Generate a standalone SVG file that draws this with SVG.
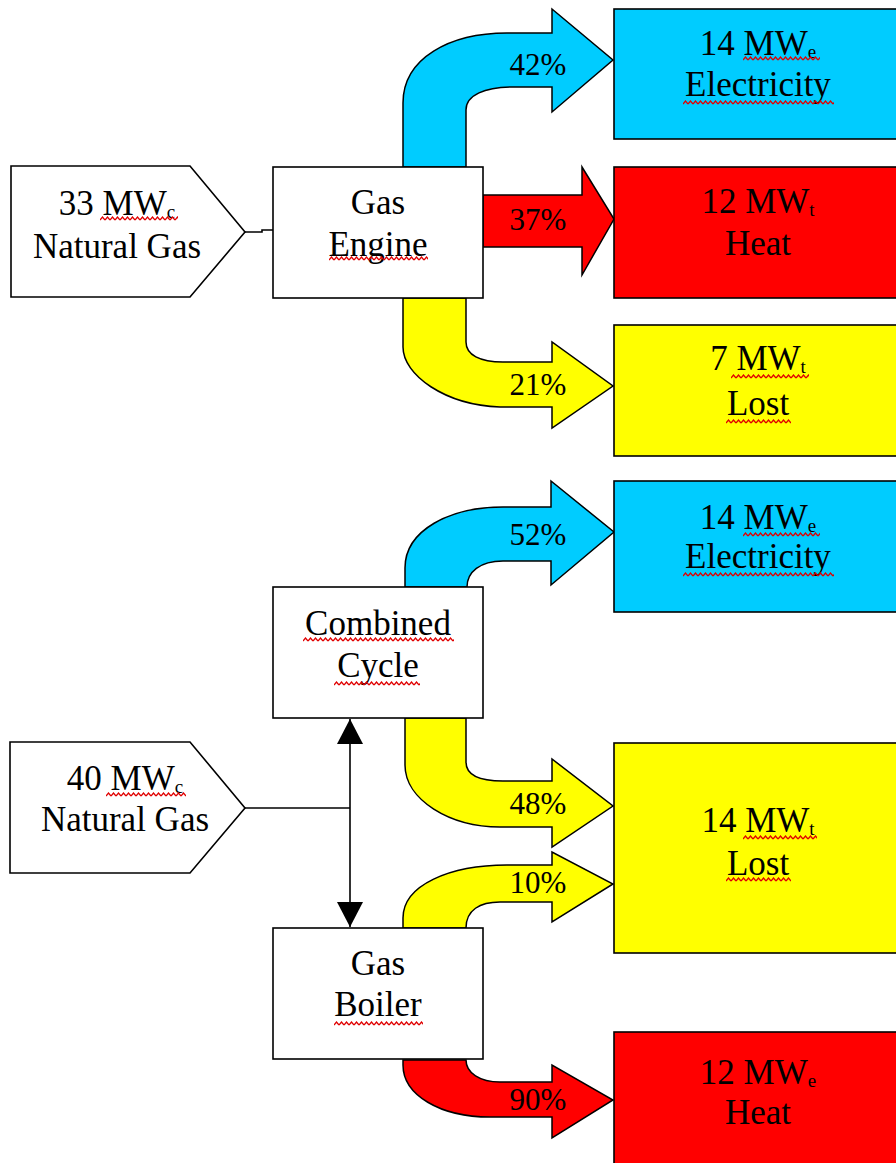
<svg xmlns="http://www.w3.org/2000/svg" width="896" height="1163" viewBox="0 0 896 1163">
<style>
.box{stroke:#000;stroke-width:1.6}
.w{fill:#fff}
.b{fill:#00CCFF}
.r{fill:#FF0000}
.y{fill:#FFFF00}
.flow{stroke:#000;stroke-width:1.5;stroke-linejoin:miter}
.t{font-family:"Liberation Serif","Times New Roman",serif;font-size:35px;fill:#000;text-anchor:middle}
.p{font-family:"Liberation Serif","Times New Roman",serif;font-size:31px;fill:#000;text-anchor:middle}
.sub{font-size:19px}
.sq{fill:url(#squig)}
.ln{stroke:#000;stroke-width:1.6;fill:none}
</style>
<defs>
<pattern id="squig" patternUnits="userSpaceOnUse" width="5" height="5">
<polyline points="0,4 2.5,1 5,4" fill="none" stroke="#E00000" stroke-width="1.3"/>
</pattern>
<marker id="ah" viewBox="0 0 25 26" refX="25" refY="13" markerWidth="25" markerHeight="26" markerUnits="userSpaceOnUse" orient="auto-start-reverse">
<path d="M0,0 L25,13 L0,26 Z" fill="#000"/>
</marker>
</defs>
<rect width="896" height="1163" fill="#fff"/>

<g id="connectors">
<!-- top section -->
<path class="flow b" d="M403,167 L403,103 C403,58 450,33 507,33 L552,33 L552,9 L613,60 L552,112 L552,87 L513,87 C485,87 466,95 466,110 L466,167 Z"/>
<path class="flow r" d="M483,195 L582,195 L582,167 L614,219 L582,275 L582,247 L483,247 Z"/>
<path class="flow y" d="M403,298 L403,347 C403,375 445,405 500,407 L552,407 L552,428 L613,386 L552,342 L552,362 L503,362 C480,362 466,355 466,342 L466,298 Z"/>
<polyline class="ln" points="245,232 262,232 262,230 273,230"/>
<text class="p" x="538" y="75">42%</text>
<text class="p" x="538" y="230">37%</text>
<text class="p" x="538" y="395">21%</text>
<!-- bottom section -->
<path class="flow b" d="M405,587 L405,568 C405,530 450,507 503,507 L551,507 L551,481 L614,532 L551,585 L551,561 L503,561 C480,561 467,572 467,587 Z"/>
<path class="flow y" d="M405,718 L405,765 C405,800 450,827 500,827 L552,827 L552,847 L613,806 L552,759 L552,781 L503,781 C480,781 466,775 466,762 L466,718 Z"/>
<path class="flow y" d="M403,928 L403,918 C403,885 450,865 507,865 L552,865 L552,852 L613,884 L552,922 L552,902 L500,902 C480,902 466,910 466,928 Z"/>
<path class="flow r" d="M403,1060 L403,1065 C403,1095 440,1117 490,1117 L552,1117 L552,1138 L613,1100 L552,1065 L552,1082 L500,1082 C480,1082 466,1073 466,1060 Z"/>
<line class="ln" x1="245" y1="808" x2="350" y2="808"/>
<line class="ln" x1="350" y1="719" x2="350" y2="927" marker-start="url(#ah)" marker-end="url(#ah)"/>
<text class="p" x="538" y="545">52%</text>
<text class="p" x="538" y="814">48%</text>
<text class="p" x="538" y="893">10%</text>
<text class="p" x="538" y="1110">90%</text>
</g>

<g id="gas_in_top">
<path class="box w" d="M11,166 L190,166 L245,232 L190,297 L11,297 Z"/>
<text class="t" x="117" y="215">33 MW<tspan class="sub" dy="3">c</tspan></text>
<text class="t" x="117" y="258">Natural Gas</text>
<rect class="sq" transform="translate(100,216)" width="78" height="5"/>
</g>

<g id="gas_engine">
<rect class="box w" x="273" y="167" width="210" height="131"/>
<text class="t" x="378" y="214">Gas</text>
<text class="t" x="378" y="256">Engine</text>
<rect class="sq" transform="translate(329,256)" width="99" height="5"/>
</g>

<g id="elec_top">
<rect class="box b" x="614" y="9" width="290" height="130"/>
<text class="t" x="758" y="55">14 MW<tspan class="sub" dy="3">e</tspan></text>
<text class="t" x="758" y="96">Electricity</text>
<rect class="sq" transform="translate(743,56)" width="77" height="5"/>
<rect class="sq" transform="translate(683,100)" width="151" height="5"/>
</g>

<g id="heat_top">
<rect class="box r" x="614" y="167" width="290" height="131"/>
<text class="t" x="758" y="213">12 MW<tspan class="sub" dy="3">t</tspan></text>
<text class="t" x="758" y="255">Heat</text>
</g>

<g id="lost_top">
<rect class="box y" x="614" y="325" width="290" height="131"/>
<text class="t" x="758" y="370">7 MW<tspan class="sub" dy="3">t</tspan></text>
<text class="t" x="758" y="415">Lost</text>
<rect class="sq" transform="translate(731,374)" width="78" height="5"/>
<rect class="sq" transform="translate(726,419)" width="65" height="5"/>
</g>

<g id="gas_in_bottom">
<path class="box w" d="M10,742 L190,742 L245,808 L190,873 L10,873 Z"/>
<text class="t" x="125" y="790">40 MW<tspan class="sub" dy="3">c</tspan></text>
<text class="t" x="125" y="831">Natural Gas</text>
<rect class="sq" transform="translate(106,792)" width="80" height="5"/>
</g>

<g id="combined_cycle">
<rect class="box w" x="273" y="587" width="210" height="131"/>
<text class="t" x="378" y="635">Combined</text>
<text class="t" x="378" y="677">Cycle</text>
<rect class="sq" transform="translate(303,637)" width="151" height="5"/>
<rect class="sq" transform="translate(334,681)" width="86" height="5"/>
</g>

<g id="gas_boiler">
<rect class="box w" x="273" y="928" width="210" height="131"/>
<text class="t" x="378" y="975">Gas</text>
<text class="t" x="378" y="1016">Boiler</text>
<rect class="sq" transform="translate(334,1021)" width="89" height="5"/>
</g>

<g id="elec_bottom">
<rect class="box b" x="614" y="481" width="290" height="131"/>
<text class="t" x="758" y="529">14 MW<tspan class="sub" dy="3">e</tspan></text>
<text class="t" x="758" y="568">Electricity</text>
<rect class="sq" transform="translate(743,532)" width="77" height="5"/>
<rect class="sq" transform="translate(683,572)" width="151" height="5"/>
</g>

<g id="lost_bottom">
<rect class="box y" x="614" y="743" width="290" height="210"/>
<text class="t" x="758" y="832">14 MW<tspan class="sub" dy="3">t</tspan></text>
<text class="t" x="758" y="875">Lost</text>
<rect class="sq" transform="translate(743,835)" width="74" height="5"/>
<rect class="sq" transform="translate(726,877)" width="65" height="5"/>
</g>

<g id="heat_bottom">
<rect class="box r" x="614" y="1032" width="290" height="140"/>
<text class="t" x="758" y="1084">12 MW<tspan class="sub" dy="3">e</tspan></text>
<text class="t" x="758" y="1124">Heat</text>
</g>
</svg>
